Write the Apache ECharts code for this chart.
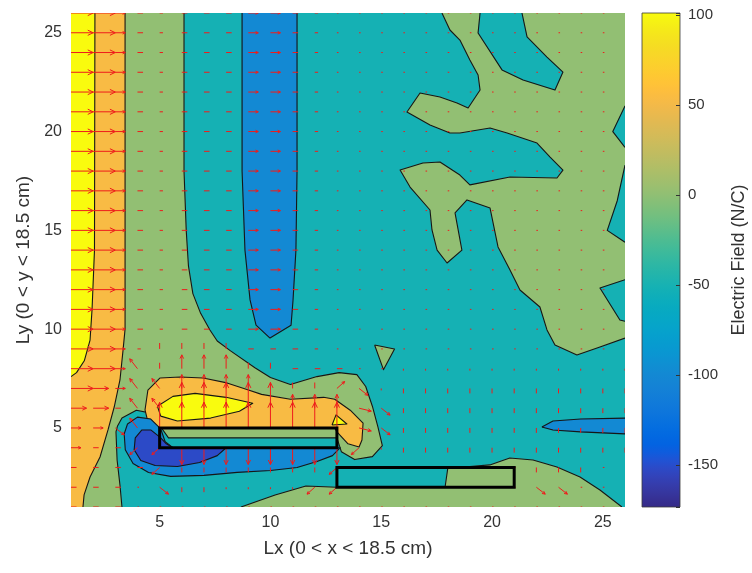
<!DOCTYPE html>
<html>
<head>
<meta charset="utf-8">
<script src="https://cdn.jsdelivr.net/npm/echarts@6.0.0/dist/echarts.min.js"></script>
<style>
html,body{margin:0;padding:0;background:#ffffff;}
#chart{width:752px;height:573px;}
</style>
</head>
<body>
<div id="chart"></div>
<script>
// ---------------- data ----------------
const xLimits = [1, 26];
const yLimits = [1, 26];
const fieldLimits = [-173.3, 101.1];
const xTicks = [5, 10, 15, 20, 25];
const yTicks = [5, 10, 15, 20, 25];
const fieldTicks = [-150, -100, -50, 0, 50, 100];
const xName = 'Lx (0 < x < 18.5 cm)';
const yName = 'Ly (0 < y < 18.5 cm)';
const fieldName = 'Electric Field (N/C)';

// filled contour regions (data units), each one level band
const tealBase = [[1,1],[26,1],[26,26],[1,26]];
const greenLeft = [[1,26],[6.1,26],[6.1,18],[6.2,15],[6.3,13.2],[6.5,11.8],[6.85,10.8],[7.27,9.96],[7.6,9.4],[8.2,8.9],[9.3,8.05],[10.0,7.55],[10.9,7.2],[12.1,7.6],[13.1,7.8],[13.9,7.7],[14.3,7.1],[14.6,6.1],[14.85,5.05],[15.05,4.1],[14.6,3.55],[13.8,3.4],[13.2,3.8],[13.0,4.5],[5.4,4.5],[5.02,5.1],[4.6,5.75],[3.95,5.9],[3.3,5.5],[3.1,5.1],[3.03,4.8],[3.08,3.38],[3.21,2.11],[3.3,1],[1,1]];
const orangeLeft = [[1,26],[3.44,26],[3.44,10],[3.35,8.95],[3.21,7.43],[2.95,6.06],[2.67,4.9],[2.31,3.53],[1.86,2.52],[1.59,1.61],[1.54,1],[1,1]];
const yellowLeft = [[1,26],[2.08,26],[2.06,14],[1.95,11],[1.86,9.45],[1.6,8.4],[1.25,7.8],[1,7.6]];
const greenRight = [[17.74,26],[18.1,25.14],[18.55,24.63],[19.0,23.62],[19.37,22.86],[19.46,22.1],[18.92,21.19],[18.42,21.45],[17.65,21.75],[16.75,21.95],[16.16,20.99],[17.2,20.33],[18.1,19.93],[18.55,19.93],[19.91,20.18],[20.68,19.93],[22.03,19.42],[22.62,18.71],[23.2,18.05],[22.93,17.65],[20.81,17.7],[19.0,17.3],[18.55,17.8],[17.65,18.46],[16.88,18.41],[15.85,18.05],[16.3,17.19],[17.2,16.03],[17.29,15.02],[17.52,14.0],[17.97,13.35],[18.64,14.0],[18.33,15.88],[18.87,16.54],[19.91,16.13],[20.27,14.16],[20.81,12.99],[21.26,11.98],[22.16,11.12],[22.48,9.96],[22.84,9.2],[23.83,8.69],[24.87,9.1],[26,9.55],[26,26]];
const tealTop = [[19.46,26],[19.37,24.99],[20.45,23.12],[21.4,22.61],[22.84,22.1],[23.2,23.01],[22.48,23.77],[21.58,24.79],[21.35,26]];
const tealEdgeA = [[26,21.3],[25.45,20.0],[26,19.2]];
const tealEdgeB = [[26,18.3],[25.65,16.5],[25.2,15.0],[26,14.4]];
const tealEdgeC = [[26,12.5],[24.87,12.08],[25.77,10.46],[26,10.4]];
const greenBottom = [[8.67,1],[10.21,1.61],[11.6,2.06],[13.0,2.0],[17.88,2.0],[18.01,3.02],[19.0,3.05],[19.9,3.13],[20.8,3.48],[21.85,3.38],[22.93,3.02],[23.97,2.52],[24.87,1.86],[25.86,1]];
const greenSpeck = [[14.7,9.2],[15.6,9.0],[15.1,7.95]];
const blueColumn = [[8.72,26],[11.2,26],[11.2,18],[11.15,14],[11.02,11.48],[10.93,10.2],[9.98,9.55],[9.35,10.2],[9.08,11.48],[8.85,14],[8.72,18]];
const orangeBlob = [[5.02,7.53],[5.92,7.58],[6.96,7.53],[8.04,7.28],[8.94,6.95],[9.6,6.7],[10.9,6.45],[12.4,6.55],[12.9,6.45],[13.6,5.9],[14.18,5.25],[14.13,4.39],[14.0,4.04],[13.5,4.2],[13.0,4.8],[12.9,5.0],[5.0,5.0],[4.65,5.15],[4.43,5.5],[4.34,5.91],[4.47,6.92]];
const yellowLens = [[4.9,6.1],[5.6,6.6],[6.6,6.75],[8.0,6.55],[9.2,6.25],[8.6,5.85],[7.3,5.5],[5.8,5.35],[5.05,5.6]];
const yellowTip = [[12.78,5.15],[12.96,5.66],[13.45,5.2]];
const blueUnder = [[5.25,4.3],[5.05,4.95],[4.6,5.45],[4.0,5.55],[3.55,5.2],[3.4,4.7],[3.45,3.9],[3.8,3.2],[4.5,2.75],[5.5,2.55],[7.0,2.6],[8.5,2.75],[10.0,2.85],[11.2,3.0],[12.1,3.3],[12.8,3.6],[13.15,4.0],[5.6,4.0]];
const blueDeep = [[5.3,4.2],[5.05,4.5],[4.6,4.9],[4.2,4.9],[3.9,4.5],[3.85,3.9],[4.15,3.35],[4.8,3.1],[5.8,3.05],[6.8,3.25],[7.6,3.6],[8.0,4.0],[5.6,4.0]];
const blueSliver = [[22.25,5.05],[22.75,5.35],[24,5.45],[26,5.5],[26,4.7],[24,4.8],[22.75,4.9]];

// contour levels of those regions, in drawing order
const contourRegions = [
  {level: -50, path: tealBase},
  {level: 0, path: greenLeft},
  {level: 50, path: orangeLeft},
  {level: 100, path: yellowLeft},
  {level: 0, path: greenRight},
  {level: -50, path: tealTop},
  {level: -50, path: tealEdgeA},
  {level: -50, path: tealEdgeB},
  {level: -50, path: tealEdgeC},
  {level: 0, path: greenBottom},
  {level: 0, path: greenSpeck},
  {level: -100, path: blueColumn},
  {level: 50, path: orangeBlob},
  {level: 100, path: yellowLens},
  {level: 100, path: yellowTip},
  {level: -100, path: blueUnder},
  {level: -150, path: blueDeep},
  {level: -100, path: blueSliver}
];

// electrodes [x0, y0, x1, y1]
const plates = [[5, 4, 13, 5], [13, 2, 21, 3]];

// quiver field: one row per y (26 at top .. 1 at bottom), one char per x (1..26)
const arrowRows = [
  '##=-:---==-:..............',
  '##=-:---==-:..............',
  '##=-:---==-:..............',
  '##=-:---==-:..............',
  '##=-:---==-:..............',
  '##=-:---==-:..............',
  '##=-:---==-:..............',
  '##=-:---==-:..............',
  '##=-:---==-:..............',
  '##=-:---==-:..............',
  '##=-:---==-:..............',
  '##=-:---==-:..............',
  '##=-:---==-:..............',
  '##=-:---==-:..............',
  '##=-:---==-:..............',
  '##=-:---==-:..............',
  '##=-:---==-:..............',
  '##=:||||---:..............',
  '##=7|AAA||---..,,,,,,,,,,,',
  '#>=77AAAA|||/k,vvvvvvvvvvv',
  '>>-77^^^^^AAArkvvvvvvvvvvv',
  '==k7^^^^^^^^^rkvvvvvvvvvvv',
  '=--LLVVVVVVVVL,vvvvvvvvvvv',
  '----LvvvvvvvL........vvv..',
  '---.kvv,,,,LL........kk...',
  '---.......................'
];
// vector components (u, v) in data units for each code
const arrowCodes = {
  '#': [1.0, 0], '>': [0.7, 0], '=': [0.45, 0], '-': [0.25, 0], ':': [0.15, 0], '.': [0.07, 0],
  ',': [0, -0.1], '|': [0, 0.3], 'A': [0, 0.7], '^': [0, 1.3], 'v': [0, -0.25], 'V': [0, -0.85],
  '/': [0.35, 0.35], 'k': [0.4, -0.35], 'r': [0.55, -0.15], '7': [-0.35, 0.5], 'L': [-0.35, -0.35]
};

// ---------------- colour map (parula) ----------------
const parulaTable = [
[0.2081,0.1663,0.5292],[0.2116,0.1898,0.5777],[0.2123,0.2138,0.6270],[0.2081,0.2386,0.6771],
[0.1959,0.2645,0.7279],[0.1707,0.2919,0.7792],[0.1253,0.3242,0.8303],[0.0591,0.3598,0.8683],
[0.0117,0.3875,0.8820],[0.0060,0.4086,0.8828],[0.0165,0.4266,0.8786],[0.0329,0.4430,0.8720],
[0.0498,0.4586,0.8641],[0.0629,0.4737,0.8554],[0.0723,0.4887,0.8467],[0.0779,0.5040,0.8384],
[0.0793,0.5200,0.8312],[0.0749,0.5375,0.8263],[0.0641,0.5570,0.8240],[0.0488,0.5772,0.8228],
[0.0343,0.5966,0.8199],[0.0265,0.6137,0.8135],[0.0239,0.6287,0.8038],[0.0231,0.6418,0.7913],
[0.0228,0.6535,0.7768],[0.0267,0.6642,0.7607],[0.0384,0.6743,0.7436],[0.0590,0.6838,0.7254],
[0.0843,0.6928,0.7062],[0.1133,0.7015,0.6859],[0.1453,0.7098,0.6646],[0.1801,0.7177,0.6424],
[0.2178,0.7250,0.6193],[0.2586,0.7317,0.5954],[0.3022,0.7376,0.5712],[0.3482,0.7424,0.5473],
[0.3953,0.7459,0.5244],[0.4420,0.7481,0.5033],[0.4871,0.7491,0.4840],[0.5300,0.7491,0.4661],
[0.5709,0.7485,0.4494],[0.6099,0.7473,0.4337],[0.6473,0.7456,0.4188],[0.6834,0.7435,0.4044],
[0.7184,0.7411,0.3905],[0.7525,0.7384,0.3768],[0.7858,0.7356,0.3633],[0.8185,0.7327,0.3498],
[0.8507,0.7299,0.3360],[0.8824,0.7274,0.3217],[0.9139,0.7258,0.3063],[0.9450,0.7261,0.2886],
[0.9739,0.7314,0.2666],[0.9938,0.7455,0.2403],[0.9990,0.7653,0.2164],[0.9955,0.7861,0.1967],
[0.9880,0.8066,0.1794],[0.9789,0.8271,0.1633],[0.9697,0.8481,0.1475],[0.9626,0.8705,0.1309],
[0.9589,0.8949,0.1132],[0.9598,0.9218,0.0948],[0.9661,0.9514,0.0755],[0.9763,0.9831,0.0538]];

function rgbOf(row) {
  return 'rgb(' + Math.round(row[0]*255) + ',' + Math.round(row[1]*255) + ',' + Math.round(row[2]*255) + ')';
}
function levelColor(level) {
  const t = (level - fieldLimits[0]) / (fieldLimits[1] - fieldLimits[0]);
  const idx = Math.max(0, Math.min(63, Math.floor(t * 64)));
  return rgbOf(parulaTable[idx]);
}

// ---------------- rendering ----------------
const arrowData = [];
arrowRows.forEach(function (row, r) {
  const y = yLimits[1] - r;
  for (let c = 0; c < row.length; c++) {
    const vec = arrowCodes[row[c]];
    if (!vec) continue;
    arrowData.push([xLimits[0] + c, y, vec[0], vec[1]]);
  }
});

function near(a, b) { return Math.abs(a - b) < 1e-6; }
function onSameEdge(a, b) {
  return (near(a[0], xLimits[0]) && near(b[0], xLimits[0])) ||
         (near(a[0], xLimits[1]) && near(b[0], xLimits[1])) ||
         (near(a[1], yLimits[0]) && near(b[1], yLimits[0])) ||
         (near(a[1], yLimits[1]) && near(b[1], yLimits[1]));
}

function regionItem(params, api) {
  const reg = contourRegions[params.dataIndex];
  const path = reg.path;
  const pts = path.map(function (p) { return api.coord(p); });
  const children = [{
    type: 'polygon', shape: {points: pts},
    style: {fill: levelColor(reg.level), stroke: levelColor(reg.level), lineWidth: 0.4}
  }];
  const runs = [];
  let cur = [pts[0]];
  const n = path.length;
  for (let i = 0; i < n; i++) {
    const j = (i + 1) % n;
    if (onSameEdge(path[i], path[j])) {
      if (cur.length > 1) runs.push(cur);
      cur = [pts[j]];
    } else {
      cur.push(pts[j]);
    }
  }
  if (cur.length > 1) runs.push(cur);
  runs.forEach(function (run) {
    children.push({type: 'polyline', shape: {points: run},
      style: {stroke: '#161616', lineWidth: 1.1, fill: null, lineJoin: 'round'}});
  });
  return {type: 'group', children: children};
}

function arrowItem(params, api) {
  const x = api.value(0), y = api.value(1), u = api.value(2), v = api.value(3);
  const p0 = api.coord([x, y]);
  const p1 = api.coord([x + u, y + v]);
  const dx = p1[0] - p0[0], dy = p1[1] - p0[1];
  const len = Math.sqrt(dx*dx + dy*dy);
  const color = '#ee1c1c';
  const children = [{type: 'line', shape: {x1: p0[0], y1: p0[1], x2: p1[0], y2: p1[1]},
    style: {stroke: color, lineWidth: 1}}];
  if (len > 6) {
    const h = Math.min(len * 0.3, 6);
    const ang = Math.atan2(dy, dx);
    const a = 0.45;
    children.push({type: 'polyline', shape: {points: [
      [p1[0] - h*Math.cos(ang - a), p1[1] - h*Math.sin(ang - a)],
      [p1[0], p1[1]],
      [p1[0] - h*Math.cos(ang + a), p1[1] - h*Math.sin(ang + a)]]},
      style: {stroke: color, lineWidth: 1, fill: null}});
  }
  return {type: 'group', children: children};
}

function plateItem(params, api) {
  const p = plates[params.dataIndex];
  const a = api.coord([p[0], p[3]]);
  const b = api.coord([p[2], p[1]]);
  return {type: 'rect', shape: {x: a[0], y: a[1], width: b[0] - a[0], height: b[1] - a[1]},
    style: {fill: null, stroke: '#000000', lineWidth: 3}};
}

function colorbarItem(params, api) {
  const a = api.coord([0, fieldLimits[1]]);
  const b = api.coord([1, fieldLimits[0]]);
  const stops = parulaTable.map(function (row, i) { return {offset: i / 63, color: rgbOf(row)}; });
  return {type: 'rect', shape: {x: a[0], y: a[1], width: b[0] - a[0], height: b[1] - a[1]},
    style: {fill: {type: 'linear', x: 0, y: 1, x2: 0, y2: 0, colorStops: stops},
            stroke: '#3a3a3a', lineWidth: 0.8}};
}

function tickFormatter(list) {
  return function (v) {
    for (let i = 0; i < list.length; i++) if (Math.abs(list[i] - v) < 1e-6) return String(list[i]);
    return '';
  };
}

const fontFamily = '"Liberation Sans", Arial, Helvetica, sans-serif';
const textColor = '#333333';

const chart = echarts.init(document.getElementById('chart'), null, {renderer: 'canvas'});
chart.setOption({
  animation: false,
  backgroundColor: '#ffffff',
  textStyle: {fontFamily: fontFamily},
  grid: [
    {left: 71, top: 13, width: 554, height: 494},
    {left: 642, top: 13, width: 38, height: 494}
  ],
  xAxis: [
    {type: 'value', gridIndex: 0, min: xLimits[0], max: xLimits[1],
     axisLine: {show: false}, axisTick: {show: false}, splitLine: {show: false},
     axisLabel: {formatter: tickFormatter(xTicks), fontSize: 16, color: textColor, margin: 8, fontFamily: fontFamily},
     name: xName, nameLocation: 'middle', nameGap: 32,
     nameTextStyle: {fontSize: 19, color: textColor, fontFamily: fontFamily}},
    {type: 'value', gridIndex: 1, min: 0, max: 1, show: false}
  ],
  yAxis: [
    {type: 'value', gridIndex: 0, min: yLimits[0], max: yLimits[1],
     axisLine: {show: false}, axisTick: {show: false}, splitLine: {show: false},
     axisLabel: {formatter: tickFormatter(yTicks), fontSize: 16, color: textColor, margin: 9, fontFamily: fontFamily},
     name: yName, nameLocation: 'middle', nameGap: 36,
     nameTextStyle: {fontSize: 19, color: textColor, fontFamily: fontFamily}},
    {type: 'value', gridIndex: 1, position: 'right', min: fieldLimits[0], max: fieldLimits[1], z: 10,
     axisLine: {show: false, onZero: false}, splitLine: {show: false},
     axisTick: {show: true, inside: true, length: 4, lineStyle: {color: '#333'}},
     axisLabel: {formatter: tickFormatter(fieldTicks), fontSize: 15, color: textColor, margin: 8, fontFamily: fontFamily},
     name: fieldName, nameLocation: 'middle', nameGap: 50,
     nameTextStyle: {fontSize: 18, color: textColor, fontFamily: fontFamily}}
  ],
  series: [
    {type: 'custom', name: 'field', xAxisIndex: 0, yAxisIndex: 0, clip: true, z: 1,
     renderItem: regionItem, data: contourRegions.map(function (r) { return [r.path[0][0], r.path[0][1]]; })},
    {type: 'custom', name: 'quiver', xAxisIndex: 0, yAxisIndex: 0, clip: true, z: 3,
     renderItem: arrowItem, encode: {x: 0, y: 1}, data: arrowData},
    {type: 'custom', name: 'plates', xAxisIndex: 0, yAxisIndex: 0, clip: true, z: 4,
     renderItem: plateItem, data: plates.map(function (p) { return [p[0], p[1]]; })},
    {type: 'custom', name: 'colorbar', xAxisIndex: 1, yAxisIndex: 1, z: 2,
     renderItem: colorbarItem, data: [[0, fieldLimits[0]]]}
  ]
});
</script>
</body>
</html>
